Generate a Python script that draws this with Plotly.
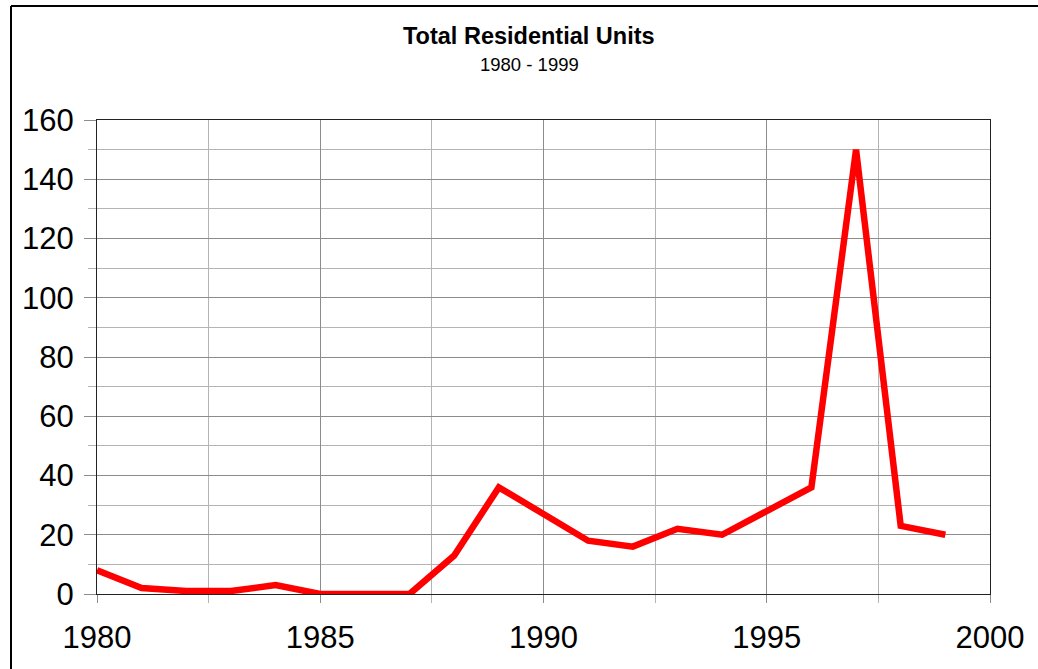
import plotly.graph_objects as go

years = list(range(1980, 2000))
units = [8, 2, 1, 1, 3, 0, 0, 0, 13, 36, 27, 18, 16, 22, 20, 28, 36, 150, 23, 20]

title_text = "Total Residential Units"
subtitle_text = "1980 - 1999"

W, H = 1038, 669
L, R, T, B = 97, 48, 120, 75
pw, ph = W - L - R, H - T - B

def px_x(p):
    return (p - L) / pw

def px_y(p):
    return (H - B - p) / ph

fig = go.Figure()
fig.add_trace(go.Scatter(
    x=years, y=units, mode="lines",
    line=dict(color="#ff0000", width=6.5),
    showlegend=False,
))

font_family = "Liberation Sans, Arial, sans-serif"

fig.update_layout(
    width=W, height=H,
    margin=dict(l=L, r=R, t=T, b=B),
    paper_bgcolor="white", plot_bgcolor="white",
    font=dict(family=font_family, color="black"),
    xaxis=dict(
        range=[1980, 2000], dtick=5, tick0=1980,
        showgrid=True, gridcolor="#8c8c8c", gridwidth=1,
        ticks="outside", ticklen=8, tickcolor="#8c8c8c",
        tickfont=dict(size=31, family=font_family),
        ticklabelstandoff=8,
        showline=True, linecolor="#222222", linewidth=1, mirror=True,
        zeroline=False,
        minor=dict(dtick=2.5, tick0=1980, showgrid=True, gridcolor="#b4b4b4",
                   ticks="outside", ticklen=8, tickcolor="#b4b4b4"),
    ),
    yaxis=dict(
        range=[0, 160], dtick=20, tick0=0,
        showgrid=True, gridcolor="#8c8c8c", gridwidth=1,
        ticks="outside", ticklen=12, tickcolor="#8c8c8c",
        tickfont=dict(size=31, family=font_family),
        ticklabelstandoff=4,
        showline=True, linecolor="#222222", linewidth=1, mirror=True,
        zeroline=False,
        minor=dict(dtick=10, tick0=0, showgrid=True, gridcolor="#b4b4b4",
                   ticks="outside", ticklen=8, tickcolor="#b4b4b4"),
    ),
    annotations=[
        dict(text="<b>" + title_text + "</b>", x=px_x(529), y=px_y(36),
             xref="paper", yref="paper", xanchor="center", yanchor="middle",
             showarrow=False, font=dict(size=23.5, family=font_family)),
        dict(text=subtitle_text, x=px_x(529), y=px_y(65),
             xref="paper", yref="paper", xanchor="center", yanchor="middle",
             showarrow=False, font=dict(size=18.5, family=font_family)),
    ],
    shapes=[
        dict(type="line", xref="paper", yref="paper",
             x0=px_x(11), x1=px_x(1045), y0=px_y(6), y1=px_y(6),
             line=dict(color="black", width=2)),
        dict(type="line", xref="paper", yref="paper",
             x0=px_x(11), x1=px_x(11), y0=px_y(6), y1=px_y(680),
             line=dict(color="black", width=2)),
    ],
)

fig.write_html("out.html", config={"displayModeBar": False},
               post_script="document.body.style.margin='0';")
